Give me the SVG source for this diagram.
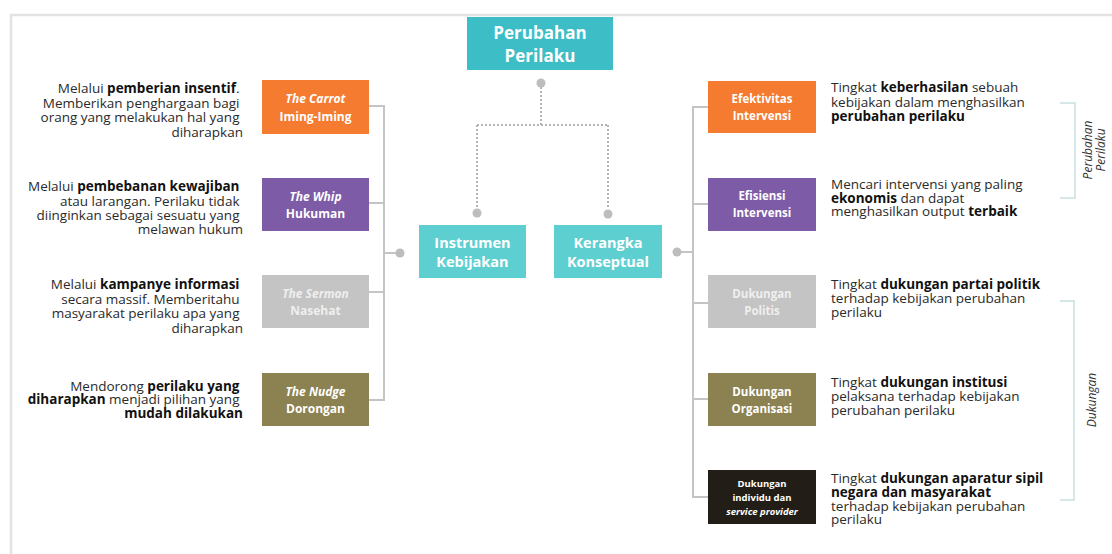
<svg xmlns="http://www.w3.org/2000/svg" width="1112" height="554" viewBox="0 0 1112 554">
<style>
.body{font-family:"Open Sans","Noto Sans",sans-serif;font-size:13.5px;fill:#2a2a2a}
.b{font-weight:bold;fill:#111}
.bt{font-family:"Open Sans","Noto Sans",sans-serif;font-weight:bold;fill:#fff;text-anchor:middle}
.i{font-style:italic}
.conn{stroke:#c4c4c4;stroke-width:2;fill:none}
.dot{fill:#bdbdbd}
.dotted{stroke:#b5b5b5;stroke-width:2;stroke-dasharray:2 2;fill:none}
.brk{stroke:#c9dfe0;stroke-width:1.5;fill:none}
.side{font-family:"Open Sans","Noto Sans",sans-serif;font-style:italic;font-size:12px;fill:#333;text-anchor:middle}
</style>
<rect width="1112" height="554" fill="#fff"/>
<path d="M11 554 V15 H1112" stroke="#e2e2e2" stroke-width="2.5" fill="none"/>

<g id="connectors">
  <path class="dotted" d="M541 87 V125 M477 125 H608 M477 125 V209 M608 125 V209"/>
  <circle class="dot" cx="541" cy="83" r="4.5"/>
  <circle class="dot" cx="477" cy="213" r="4.5"/>
  <circle class="dot" cx="608" cy="214" r="4.5"/>
  <path class="conn" d="M369 106 H384 V400 H369 M369 203 H384 M369 292 H384 M384 253 H396"/>
  <circle class="dot" cx="400" cy="253" r="4.5"/>
  <path class="conn" d="M708 107 H693 V497 H708 M708 204 H693 M708 303 H693 M708 399 H693 M693 252 H681"/>
  <circle class="dot" cx="677" cy="252" r="4.5"/>
  <path class="brk" d="M1060 103 H1075 V198 H1060"/>
  <path class="brk" d="M1060 301 H1074 V500 H1060"/>
</g>

<g id="perubahan-perilaku">
  <rect x="467" y="17" width="146" height="53" fill="#3dbdc5"/>
  <text class="bt" font-size="17" x="540" y="39">Perubahan</text>
  <text class="bt" font-size="17" x="540" y="62">Perilaku</text>
</g>
<g id="instrumen-kebijakan">
  <rect x="419" y="225" width="107" height="53" fill="#5ecfd0"/>
  <text class="bt" font-size="14.5" x="472.5" y="248">Instrumen</text>
  <text class="bt" font-size="14.5" x="472.5" y="267">Kebijakan</text>
</g>
<g id="kerangka-konseptual">
  <rect x="554" y="225" width="108" height="53" fill="#5ecfd0"/>
  <text class="bt" font-size="14.5" x="608" y="248">Kerangka</text>
  <text class="bt" font-size="14.5" x="608" y="267">Konseptual</text>
</g>

<g id="carrot">
  <rect x="262" y="80" width="107" height="54" fill="#f47b30"/>
  <text class="bt i" font-size="12" x="315.5" y="103">The Carrot</text>
  <text class="bt" font-size="12" x="315.5" y="121">Iming-Iming</text>
  <text class="body" text-anchor="end">
    <tspan x="243" y="93">Melalui <tspan class="b">pemberian insentif</tspan>.</tspan>
    <tspan x="243" y="108">Memberikan penghargaan bagi</tspan>
    <tspan x="243" y="122">orang yang melakukan hal yang</tspan>
    <tspan x="243" y="137">diharapkan</tspan>
  </text>
</g>
<g id="whip">
  <rect x="262" y="178" width="107" height="53" fill="#7d5ba6"/>
  <text class="bt i" font-size="12" x="315.5" y="201">The Whip</text>
  <text class="bt" font-size="12" x="315.5" y="218">Hukuman</text>
  <text class="body" text-anchor="end">
    <tspan x="243" y="191">Melalui <tspan class="b">pembebanan kewajiban</tspan></tspan>
    <tspan x="243" y="206">atau larangan. Perilaku tidak</tspan>
    <tspan x="243" y="220">diinginkan  sebagai sesuatu yang</tspan>
    <tspan x="243" y="234">melawan hukum</tspan>
  </text>
</g>
<g id="sermon">
  <rect x="262" y="275" width="107" height="53" fill="#c4c4c4"/>
  <text class="bt i" font-size="12" x="315.5" y="298" style="fill:#efefef">The Sermon</text>
  <text class="bt" font-size="12" x="315.5" y="315" style="fill:#efefef">Nasehat</text>
  <text class="body" text-anchor="end">
    <tspan x="243" y="289">Melalui <tspan class="b">kampanye informasi</tspan></tspan>
    <tspan x="243" y="304">secara massif. Memberitahu</tspan>
    <tspan x="243" y="318">masyarakat perilaku apa yang</tspan>
    <tspan x="243" y="333">diharapkan</tspan>
  </text>
</g>
<g id="nudge">
  <rect x="262" y="373" width="107" height="53" fill="#8c8150"/>
  <text class="bt i" font-size="12" x="315.5" y="396">The Nudge</text>
  <text class="bt" font-size="12" x="315.5" y="413">Dorongan</text>
  <text class="body" text-anchor="end">
    <tspan x="243" y="391">Mendorong <tspan class="b">perilaku yang</tspan></tspan>
    <tspan x="243" y="404"><tspan class="b">diharapkan</tspan> menjadi  pilihan yang</tspan>
    <tspan x="243" y="418"><tspan class="b">mudah dilakukan</tspan></tspan>
  </text>
</g>

<g id="efektivitas">
  <rect x="708" y="81" width="108" height="52" fill="#f47b30"/>
  <text class="bt" font-size="11.5" x="762" y="103">Efektivitas</text>
  <text class="bt" font-size="11.5" x="762" y="120">Intervensi</text>
  <text class="body">
    <tspan x="831" y="92">Tingkat <tspan class="b">keberhasilan</tspan> sebuah</tspan>
    <tspan x="831" y="107">kebijakan dalam menghasilkan</tspan>
    <tspan x="831" y="121"><tspan class="b">perubahan perilaku</tspan></tspan>
  </text>
</g>
<g id="efisiensi">
  <rect x="708" y="178" width="108" height="53" fill="#7d5ba6"/>
  <text class="bt" font-size="11.5" x="762" y="200">Efisiensi</text>
  <text class="bt" font-size="11.5" x="762" y="217">Intervensi</text>
  <text class="body">
    <tspan x="831" y="189">Mencari intervensi yang paling</tspan>
    <tspan x="831" y="203"><tspan class="b">ekonomis</tspan> dan dapat</tspan>
    <tspan x="831" y="216">menghasilkan output <tspan class="b">terbaik</tspan></tspan>
  </text>
</g>
<g id="politis">
  <rect x="708" y="275" width="108" height="53" fill="#c4c4c4"/>
  <text class="bt" font-size="11.5" x="762" y="298" style="fill:#efefef">Dukungan</text>
  <text class="bt" font-size="11.5" x="762" y="315" style="fill:#efefef">Politis</text>
  <text class="body">
    <tspan x="831" y="289">Tingkat <tspan class="b">dukungan partai politik</tspan></tspan>
    <tspan x="831" y="303">terhadap kebijakan perubahan</tspan>
    <tspan x="831" y="317">perilaku</tspan>
  </text>
</g>
<g id="organisasi">
  <rect x="708" y="373" width="108" height="53" fill="#8c8150"/>
  <text class="bt" font-size="11.5" x="762" y="396">Dukungan</text>
  <text class="bt" font-size="11.5" x="762" y="413">Organisasi</text>
  <text class="body">
    <tspan x="831" y="387">Tingkat <tspan class="b">dukungan institusi</tspan></tspan>
    <tspan x="831" y="401">pelaksana terhadap kebijakan</tspan>
    <tspan x="831" y="415">perubahan perilaku</tspan>
  </text>
</g>
<g id="individu">
  <rect x="708" y="470" width="108" height="54" fill="#221e17"/>
  <text class="bt" font-size="9.5" x="762" y="487">Dukungan</text>
  <text class="bt" font-size="9.5" x="762" y="501">individu dan</text>
  <text class="bt i" font-size="9.5" x="762" y="515">service provider</text>
  <text class="body">
    <tspan x="831" y="483">Tingkat <tspan class="b">dukungan aparatur sipil</tspan></tspan>
    <tspan x="831" y="497"><tspan class="b">negara dan masyarakat</tspan></tspan>
    <tspan x="831" y="511">terhadap kebijakan perubahan</tspan>
    <tspan x="831" y="524">perilaku</tspan>
  </text>
</g>

<g id="label-perubahan-perilaku">
  <text class="side" transform="translate(1092 150) rotate(-90)"><tspan x="0" y="0">Perubahan</tspan><tspan x="0" y="13">Perilaku</tspan></text>
</g>
<g id="label-dukungan">
  <text class="side" transform="translate(1096 400) rotate(-90)">Dukungan</text>
</g>
</svg>
